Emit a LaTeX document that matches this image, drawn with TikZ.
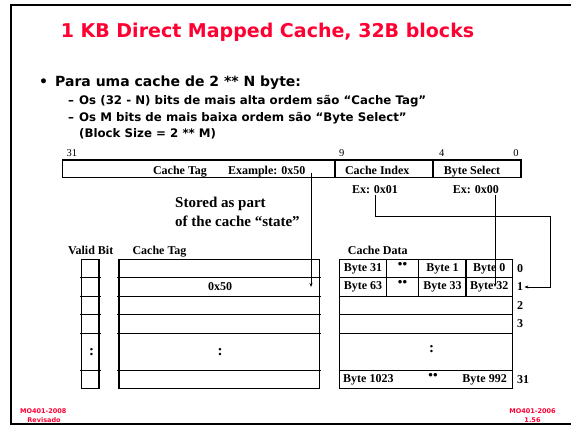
\documentclass[tikz,border=0pt]{standalone}
\usepackage{fontspec}
\usetikzlibrary{arrows.meta}
\setmainfont{Liberation Serif}
\newfontfamily\slidefont{DejaVu Sans}
\definecolor{titleRed}{RGB}{255,0,51}

\begin{document}
\begin{tikzpicture}[x=1pt,y=-1pt,
    lbl/.style={font=\fontsize{12}{12}\selectfont\bfseries, inner sep=1pt},
    bitnum/.style={font=\fontsize{10.5}{10.5}\selectfont, inner sep=0pt, anchor=base},
    bodytxt/.style={font=\slidefont\bfseries\fontsize{14}{14}\selectfont, inner sep=0pt, anchor=base west},
    subtxt/.style={font=\slidefont\bfseries\fontsize{11.8}{11.8}\selectfont, inner sep=0pt, anchor=base west},
    foot/.style={font=\slidefont\bfseries\fontsize{6.5}{6.5}\selectfont, text=titleRed, inner sep=0pt},
    grid/.style={line width=1.1pt},
    tap/.style={-{Stealth[length=4pt,width=3pt]}, line width=0.9pt}]
  \useasboundingbox (0,0) rectangle (571,426);
  \draw[line width=2pt] (571,5) -- (11,5) -- (11,424) -- (571,424);
  \node[text=titleRed, font=\slidefont\bfseries\fontsize{19}{19}\selectfont, inner sep=0pt, anchor=base] (title) at (267.5,37) {1 KB Direct Mapped Cache, 32B blocks};
  \node[bodytxt] (bul) at (39,86) {•};
  \node[bodytxt] (point) at (55,86) {Para uma cache de 2 ** N byte:};
  \node[subtxt] (dasha) at (68,104) {–};
  \node[subtxt] (subA) at (79,104) {Os (32 - N) bits de mais alta ordem são “Cache Tag”};
  \node[subtxt] (dashb) at (68,121) {–};
  \node[subtxt] (subB) at (79,121) {Os M bits de mais baixa ordem são “Byte Select”};
  \node[subtxt] (subC) at (79,137.5) {(Block Size = 2 ** M)};

  \node[bitnum] (n31) at (72,156) {31};
  \node[bitnum] (n9) at (341.8,156) {9};
  \node[bitnum] (n4) at (441.8,156) {4};
  \node[bitnum] (n0) at (516,156) {0};
  \draw[grid] (62.7,160) rectangle (521,177.7);
  \draw[grid] (335,160) -- (335,177.7);
  \draw[grid] (433,160) -- (433,177.7);
  \node[lbl, anchor=base] (tagfld) at (180,174.5) {Cache Tag};
  \node[lbl, anchor=base] (example) at (266.7,174.5) {Example: 0x50};
  \node[lbl, anchor=base] (idxfld) at (377.2,174.5) {Cache Index};
  \node[lbl, anchor=base] (selfld) at (472,174.5) {Byte Select};
  \node[lbl, anchor=base] (exidx) at (375,193.3) {Ex: 0x01};
  \node[lbl, anchor=base] (exsel) at (475.8,193.3) {Ex: 0x00};
  \node[font=\fontsize{15}{15}\selectfont\bfseries, inner sep=0pt, anchor=base west] (stored) at (175,207.5) {Stored as part};
  \node[font=\fontsize{15}{15}\selectfont\bfseries, inner sep=0pt, anchor=base west] (state) at (175,226) {of the cache “state”};

  \node[lbl, anchor=base] (validhd) at (90.7,254) {Valid Bit};
  \node[lbl, anchor=base] (taghd) at (159.5,254) {Cache Tag};
  \node[lbl, anchor=base west] (datahd) at (346.7,254) {Cache Data};
  \draw[grid] (81.7,259.3) rectangle (99,388.8);
  \draw[grid] (119,259.3) rectangle (319.3,388.8);
  \draw[grid] (339.3,259.3) rectangle (512.7,388.8);
  \foreach \y in {277.8,296.3,314.8,333.3,370.3} {
    \draw[grid] (80,\y) -- (100.7,\y);
    \draw[grid] (117.3,\y) -- (321,\y);
    \draw[grid] (339.3,\y) -- (512.7,\y);
  }
  \foreach \x in {386.7,418.3,466} \draw[grid] (\x,259.3) -- (\x,296.3);

  \node[lbl] (b31) at (363,268.5) {Byte 31};
  \node[lbl, font=\fontsize{13}{13}\selectfont\bfseries] (dotsa) at (402.5,265) {••};
  \node[lbl] (b1) at (442.5,268.5) {Byte 1};
  \node[lbl] (b0) at (489.3,268.5) {Byte 0};
  \node[lbl] (b63) at (363,287) {Byte 63};
  \node[lbl, font=\fontsize{13}{13}\selectfont\bfseries] (dotsb) at (402.5,283.5) {••};
  \node[lbl] (b33) at (442.5,287) {Byte 33};
  \node[lbl] (b32) at (489.3,287) {Byte 32};
  \node[lbl, anchor=west] (b1023) at (342,379.5) {Byte 1023};
  \node[lbl, font=\fontsize{13}{13}\selectfont\bfseries] (dotsc) at (433,376) {••};
  \node[lbl, anchor=east] (b992) at (508,379.5) {Byte 992};
  \node[lbl] (tag50) at (220,287) {0x50};
  \node[lbl, font=\fontsize{15}{15}\selectfont\bfseries] (vdots) at (91.5,352) {:};
  \node[lbl, font=\fontsize{15}{15}\selectfont\bfseries] (tdots) at (220,352) {:};
  \node[lbl, font=\fontsize{15}{15}\selectfont\bfseries] (ddots) at (431.7,349) {:};

  \node[lbl, anchor=west] (r0) at (516,268.5) {0};
  \node[lbl, anchor=west] (r1) at (516,287) {1};
  \node[lbl, anchor=west] (r2) at (516,305.5) {2};
  \node[lbl, anchor=west] (r3) at (516,324) {3};
  \node[lbl, anchor=west] (r31) at (516,379.5) {31};

  \coordinate (tagtap) at (311,172.5);
  \coordinate (turn) at (550.7,216);
  \coordinate (seltap) at ([xshift=-5pt]exsel.south east);
  \draw[tap] (tagtap) -- (tagtap |- tag50);
  \draw[tap] (exidx.south) |- (turn) |- (r1.east);
  \draw[tap] (seltap) -- (seltap |- b32);

  \node[foot] (footL) at (43.3,410.7) {MO401-2008};
  \node[foot] (footLb) at (44,420) {Revisado};
  \node[foot] (footR) at (532.5,410.7) {MO401-2006};
  \node[foot] (footRb) at (532.5,420) {1.56};
\end{tikzpicture}
\end{document}
